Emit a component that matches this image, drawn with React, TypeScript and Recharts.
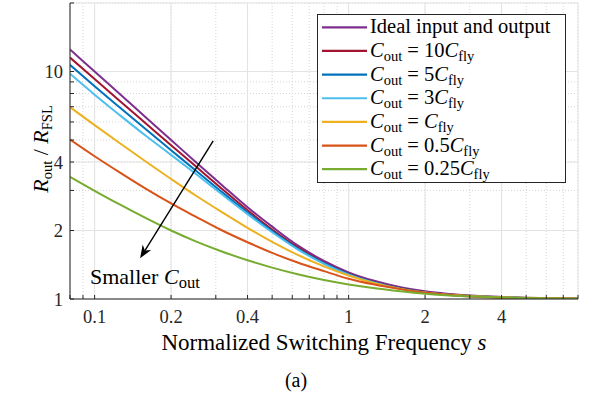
import React from 'react';
import { CartesianGrid, Line, LineChart, ReferenceLine, XAxis, YAxis } from 'recharts';

// normalized switching frequency s
const freq = [0.08, 0.1, 0.125, 0.16, 0.2, 0.25, 0.315, 0.4, 0.5, 0.63, 0.8, 1, 1.25, 1.6, 2, 2.5, 3.15, 4, 5, 6.3, 8];

// R_out / R_FSL
const idealIO = [12.5, 10.0, 8.0, 6.25, 5.0, 4.0, 3.19, 2.53, 2.08, 1.72, 1.47, 1.31, 1.205, 1.127, 1.082, 1.053, 1.033, 1.021, 1.013, 1.008, 1.005];
const cout10 = [11.51, 9.26, 7.46, 5.88, 4.74, 3.83, 3.07, 2.455, 2.02, 1.685, 1.445, 1.29, 1.189, 1.115, 1.074, 1.047, 1.029, 1.018, 1.011, 1.007, 1.005];
const cout5 = [10.7, 8.62, 6.98, 5.54, 4.51, 3.67, 2.97, 2.4, 1.99, 1.667, 1.436, 1.287, 1.186, 1.113, 1.072, 1.045, 1.027, 1.016, 1.01, 1.006, 1.004];
const cout3 = [9.77, 7.91, 6.46, 5.19, 4.3, 3.55, 2.9, 2.36, 1.966, 1.654, 1.427, 1.28, 1.181, 1.108, 1.067, 1.042, 1.025, 1.016, 1.01, 1.006, 1.004];
const cout1 = [6.97, 5.81, 4.86, 4.0, 3.37, 2.85, 2.42, 2.055, 1.784, 1.564, 1.391, 1.268, 1.176, 1.107, 1.066, 1.043, 1.027, 1.017, 1.012, 1.008, 1.005];
const cout05 = [5.02, 4.24, 3.61, 3.04, 2.63, 2.3, 2.01, 1.776, 1.595, 1.446, 1.326, 1.228, 1.16, 1.105, 1.067, 1.041, 1.023, 1.013, 1.007, 1.004, 1.002];
const cout025 = [3.44, 2.99, 2.61, 2.26, 2.0, 1.793, 1.622, 1.48, 1.374, 1.285, 1.212, 1.159, 1.117, 1.081, 1.055, 1.037, 1.025, 1.016, 1.01, 1.006, 1.003];

const xMajor = [0.1, 0.2, 0.4, 1, 2, 4];
const xMinor = [0.08, 0.09, 0.3, 0.5, 0.6, 0.7, 0.8, 0.9, 3, 5, 6, 7, 8];
const yMajor = [1, 2, 4, 10];
const yMinor = [3, 5, 6, 7, 8, 9, 20];
const xDomain = [0.08, 8];
const yDomain = [1, 20];

// arrow annotation, tail -> head, in data units
const arrowFrom = { x: 0.293, y: 4.95 };
const arrowTo = { x: 0.151, y: 1.51 };

const series = [
  { key: 'ideal', values: idealIO, color: '#7E2F8E', coef: null },
  { key: 'c10', values: cout10, color: '#A2142F', coef: '10' },
  { key: 'c5', values: cout5, color: '#0072BD', coef: '5' },
  { key: 'c3', values: cout3, color: '#4DBEEE', coef: '3' },
  { key: 'c1', values: cout1, color: '#EDB120', coef: '' },
  { key: 'c05', values: cout05, color: '#D95319', coef: '0.5' },
  { key: 'c025', values: cout025, color: '#77AC30', coef: '0.25' },
];

const data = freq.map((s, i) => {
  const row: Record<string, number> = { s };
  series.forEach((sr) => (row[sr.key] = sr.values[i]));
  return row;
});

const FONT = '"Liberation Serif", "Times New Roman", serif';
const AX = '#262626';
const TICK_FS = 18.5;
const xAll = [...xMajor, ...xMinor].sort((a, b) => a - b);
const yAll = [...yMajor, ...yMinor].sort((a, b) => a - b);

function XTick({ x, y, payload }: any) {
  if (!xMajor.includes(payload.value)) return <g />;
  return (
    <text x={x} y={y} dy="0.71em" textAnchor="middle" fontSize={TICK_FS} style={{ fontFamily: FONT }} fill={AX}>
      {payload.value}
    </text>
  );
}

function YTick({ x, y, payload }: any) {
  if (!yMajor.includes(payload.value)) return <g />;
  return (
    <text x={x} y={y} dy="0.355em" textAnchor="end" fontSize={TICK_FS} style={{ fontFamily: FONT }} fill={AX}>
      {payload.value}
    </text>
  );
}

const noTick = () => <g />;

function ArrowShape(p: any) {
  const { x1, y1, x2, y2 } = p;
  const a = Math.atan2(y2 - y1, x2 - x1);
  const c = Math.cos(a);
  const s = Math.sin(a);
  const len = 13;
  const half = 5;
  const bx = x2 - len * c;
  const by = y2 - len * s;
  const nx = x2 - len * 0.7 * c;
  const ny = y2 - len * 0.7 * s;
  const d = `M${x2},${y2} L${bx - half * s},${by + half * c} L${nx},${ny} L${bx + half * s},${by - half * c} Z`;
  return (
    <g>
      <line x1={x1} y1={y1} x2={nx} y2={ny} stroke="#000" strokeWidth={1.4} />
      <path d={d} fill="#000" />
    </g>
  );
}

// text pieces: [text, italic, subscript]
type Piece = [string, boolean?, boolean?];

function Rich({ parts, subSize }: { parts: Piece[]; subSize: number }) {
  let inSub = false;
  return (
    <>
      {parts.map(([t, it, sub], i) => {
        const dy = sub && !inSub ? 4 : !sub && inSub ? -4 : undefined;
        inSub = !!sub;
        return (
          <tspan key={i} dy={dy} fontStyle={it ? 'italic' : undefined} fontSize={sub ? subSize : undefined}>
            {t}
          </tspan>
        );
      })}
    </>
  );
}

function legendParts(coef: string | null): Piece[] {
  if (coef === null) return [['Ideal input and output']];
  return [['C', true], ['out', false, true], [' = ' + coef], ['C', true], ['fly', false, true]];
}

function Overlay() {
  const rowY = (i: number) => 27.3 + i * 23.65;
  return (
    <svg
      width={589}
      height={396}
      style={{ position: 'absolute', left: 0, top: 0, pointerEvents: 'none', fontFamily: FONT, whiteSpace: 'pre' }}
    >
      <rect x={317.5} y={14.5} width={248} height={168} fill="#fff" stroke={AX} strokeWidth={1} />
      {series.map((sr, i) => (
        <g key={sr.key}>
          <line x1={322} x2={367} y1={rowY(i)} y2={rowY(i)} stroke={sr.color} strokeWidth={2.2} />
          <text x={370} y={rowY(i) + 6} fontSize={20.5} fill="#000">
            <Rich parts={legendParts(sr.coef)} subSize={14.5} />
          </text>
        </g>
      ))}
      <text x={90} y={283.5} fontSize={22} fill="#000">
        <Rich parts={[['Smaller '], ['C', true], ['out', false, true]]} subSize={16.5} />
      </text>
      <text x={324} y={349.5} fontSize={23} fill="#000" textAnchor="middle">
        <Rich parts={[['Normalized Switching Frequency '], ['s', true]]} subSize={16} />
      </text>
      <text x={296} y={387} fontSize={20} fill="#000" textAnchor="middle">
        (a)
      </text>
      <text transform="translate(48,149) rotate(-90)" fontSize={22} fill="#000" textAnchor="middle">
        <Rich parts={[['R', true], ['out', false, true], [' / '], ['R', true], ['FSL', false, true]]} subSize={14.5} />
      </text>
    </svg>
  );
}

export default function App() {
  return (
    <div style={{ position: 'absolute', left: 0, top: 0, width: 589, height: 396, background: '#fff' }}>
      <LineChart
        width={589}
        height={396}
        data={data}
        margin={{ top: 3, right: 11, bottom: 67, left: 0 }}
        style={{ fontFamily: FONT }}
      >
        <XAxis
          dataKey="s"
          type="number"
          scale="log"
          domain={xDomain}
          allowDataOverflow
          ticks={xAll}
          interval={0}
          tickSize={-4}
          tickMargin={15}
          height={30}
          axisLine={{ stroke: AX }}
          tickLine={{ stroke: AX }}
          tick={XTick}
        />
        <XAxis
          xAxisId="top"
          orientation="top"
          dataKey="s"
          type="number"
          scale="log"
          domain={xDomain}
          allowDataOverflow
          ticks={xAll}
          interval={0}
          tickSize={-4}
          height={0}
          axisLine={{ stroke: AX }}
          tickLine={{ stroke: AX }}
          tick={noTick}
        />
        <XAxis xAxisId="major" hide dataKey="s" type="number" scale="log" domain={xDomain} allowDataOverflow ticks={xMajor} interval={0} />
        <YAxis
          type="number"
          scale="log"
          domain={yDomain}
          allowDataOverflow
          ticks={yAll}
          interval={0}
          tickSize={-4}
          tickMargin={11}
          width={70}
          axisLine={{ stroke: AX }}
          tickLine={{ stroke: AX }}
          tick={YTick}
        />
        <YAxis
          yAxisId="right"
          orientation="right"
          type="number"
          scale="log"
          domain={yDomain}
          allowDataOverflow
          ticks={yAll}
          interval={0}
          tickSize={-4}
          width={0}
          axisLine={{ stroke: AX }}
          tickLine={{ stroke: AX }}
          tick={noTick}
        />
        <YAxis yAxisId="major" hide type="number" scale="log" domain={yDomain} allowDataOverflow ticks={yMajor} interval={0} />
        <CartesianGrid stroke="#d4d4d4" strokeDasharray="1 2" />
        <CartesianGrid xAxisId="major" yAxisId="major" stroke="#e3e3e3" />
        {series.map((sr) => (
          <Line
            key={sr.key}
            dataKey={sr.key}
            type="monotone"
            stroke={sr.color}
            strokeWidth={2}
            dot={false}
            activeDot={false}
            isAnimationActive={false}
          />
        ))}
        <ReferenceLine segment={[arrowFrom, arrowTo]} shape={ArrowShape} ifOverflow="visible" />
      </LineChart>
      <Overlay />
    </div>
  );
}
